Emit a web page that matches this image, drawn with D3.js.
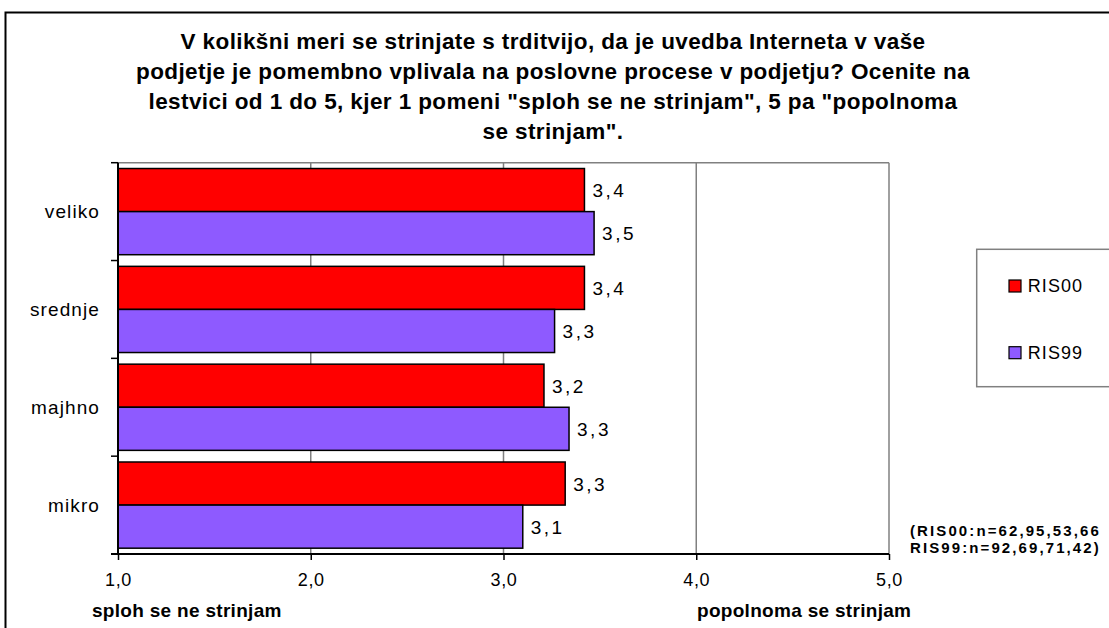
<!DOCTYPE html>
<html>
<head>
<meta charset="utf-8">
<script src="https://cdn.jsdelivr.net/npm/d3@7"></script>
<style>
  html, body { margin: 0; padding: 0; background: #fff; }
  svg { display: block; font-family: "Liberation Sans", Arial, sans-serif; }
</style>
</head>
<body>
<svg id="chart" width="1109" height="628"></svg>
<script>
// ---- data ----
const categories = ["veliko", "srednje", "majhno", "mikro"];
const seriesNames = ["RIS00", "RIS99"];
const ris00 = [3.42, 3.42, 3.21, 3.32];
const ris99 = [3.47, 3.265, 3.34, 3.10];
const xTicks = [1, 2, 3, 4, 5];
const titleLines = [
  "V kolikšni meri se strinjate s trditvijo, da je uvedba Interneta v vaše",
  "podjetje je pomembno vplivala na poslovne procese v podjetju? Ocenite na",
  "lestvici od 1 do 5, kjer 1 pomeni \"sploh se ne strinjam\", 5 pa \"popolnoma",
  "se strinjam\"."
];
const axisLeftLabel = "sploh se ne strinjam";
const axisRightLabel = "popolnoma se strinjam";
const noteLines = ["(RIS00:n=62,95,53,66", "RIS99:n=92,69,71,42)"];
const colors = ["#FF0000", "#8E5AFF"];

(function () {
const seriesValues = [ris00, ris99];
const rows = categories.map((c, i) => ({ cat: c, vals: seriesValues.map((s, k) => ({ key: seriesNames[k], v: s[i], k })) }));

const loc = d3.formatLocale({ decimal: ",", thousands: ".", grouping: [3], currency: ["", "€"] });
const fmt = loc.format(".1f");

const svg = d3.select("#chart");

// outer frame
svg.append("rect").attr("x", 5.5).attr("y", 12.5).attr("width", 1120).attr("height", 640)
  .attr("fill", "#fff").attr("stroke", "#000").attr("stroke-width", 2);

// title
const title = svg.append("text").attr("text-anchor", "middle")
  .attr("font-weight", "bold").attr("font-size", 22.5).attr("letter-spacing", 0.4).attr("fill", "#000");
titleLines.forEach((t, i) => {
  title.append("tspan").attr("x", 553).attr("y", 48.5 + i * 30.2).text(t);
});

// plot area
const pLeft = 118, pRight = 889, pTop = 162.7, pBottom = 554;
const x = d3.scaleLinear().domain([1, 5]).range([pLeft, pRight]);
const y = d3.scaleBand().domain(categories).range([pTop, pBottom]).padding(0);
const ySub = d3.scaleBand().domain(seriesNames).range([0, y.bandwidth()]).paddingInner(0).paddingOuter(0.135);

// grid lines
svg.append("g").selectAll("line").data(xTicks.slice(1)).join("line")
  .attr("x1", d => x(d)).attr("x2", d => x(d))
  .attr("y1", pTop).attr("y2", pBottom)
  .attr("stroke", "#808080").attr("stroke-width", 1.5);
svg.append("line").attr("x1", pLeft).attr("x2", pRight).attr("y1", pTop).attr("y2", pTop)
  .attr("stroke", "#808080").attr("stroke-width", 1.5);

// bars
const groups = svg.append("g").selectAll("g").data(rows).join("g")
  .attr("transform", d => `translate(0,${y(d.cat)})`);
groups.selectAll("rect").data(d => d.vals).join("rect")
  .attr("x", x(1))
  .attr("y", d => ySub(d.key))
  .attr("width", d => x(d.v) - x(1))
  .attr("height", ySub.bandwidth())
  .attr("fill", d => colors[d.k])
  .attr("stroke", "#000").attr("stroke-width", 1.5);
groups.selectAll("text").data(d => d.vals).join("text")
  .attr("x", d => x(d.v) + 8)
  .attr("y", d => ySub(d.key) + ySub.bandwidth() / 2 + 7)
  .attr("font-size", 19).attr("letter-spacing", 2.5).attr("fill", "#000")
  .text(d => fmt(d.v));

// x axis
const xAxis = d3.axisBottom(x).tickValues(xTicks).tickFormat(fmt).tickSize(6).tickPadding(13);
const gx = svg.append("g").attr("transform", `translate(0,${pBottom})`).call(xAxis);
gx.select(".domain").attr("stroke", "#000").attr("stroke-width", 2).attr("d", `M${pLeft - 7},0H${pRight}`);
gx.selectAll(".tick line").attr("stroke", "#000").attr("stroke-width", 1.5);
gx.selectAll(".tick text").attr("font-size", 18).attr("letter-spacing", 0.6)
  .attr("font-family", "Liberation Sans, Arial, sans-serif").attr("fill", "#000");

// y axis
const yAxis = d3.axisLeft(y).tickSize(0).tickPadding(18);
const gy = svg.append("g").attr("transform", `translate(${pLeft},0)`).call(yAxis);
gy.select(".domain").attr("stroke", "#000").attr("stroke-width", 2).attr("d", `M0,${pTop}V${pBottom}`);
gy.selectAll(".tick text").attr("font-size", 19).attr("letter-spacing", 1.1)
  .attr("font-family", "Liberation Sans, Arial, sans-serif").attr("fill", "#000").attr("dy", "0.34em");
svg.append("g").selectAll("line").data(categories).join("line")
  .attr("x1", pLeft - 7).attr("x2", pLeft)
  .attr("y1", d => y(d)).attr("y2", d => y(d))
  .attr("stroke", "#000").attr("stroke-width", 1.5);

// axis end labels
svg.append("text").attr("x", 92).attr("y", 616.7).attr("font-size", 19).attr("font-weight", "bold")
  .attr("letter-spacing", 0.3).text(axisLeftLabel);
svg.append("text").attr("x", 697).attr("y", 616.7).attr("font-size", 19).attr("font-weight", "bold")
  .attr("letter-spacing", 0.3).text(axisRightLabel);

// note
noteLines.forEach((t, i) => svg.append("text").attr("x", 910).attr("y", 536 + i * 17)
  .attr("font-size", 15).attr("font-weight", "bold").attr("letter-spacing", 2.1).text(t));

// legend
svg.append("rect").attr("x", 976.7).attr("y", 249.3).attr("width", 160).attr("height", 137.4)
  .attr("fill", "#fff").attr("stroke", "#808080").attr("stroke-width", 1.5);
const leg = svg.append("g").selectAll("g").data(seriesNames).join("g")
  .attr("transform", (d, i) => `translate(1009,${280 + i * 66.7})`);
leg.append("rect").attr("width", 12).attr("height", 12)
  .attr("fill", (d, i) => colors[i]).attr("stroke", "#000").attr("stroke-width", 1.2);
leg.append("text").attr("x", 18.7).attr("y", 12.3).attr("font-size", 18).attr("letter-spacing", 1.1)
  .attr("fill", "#000").text(d => d);
})();
</script>
</body>
</html>
